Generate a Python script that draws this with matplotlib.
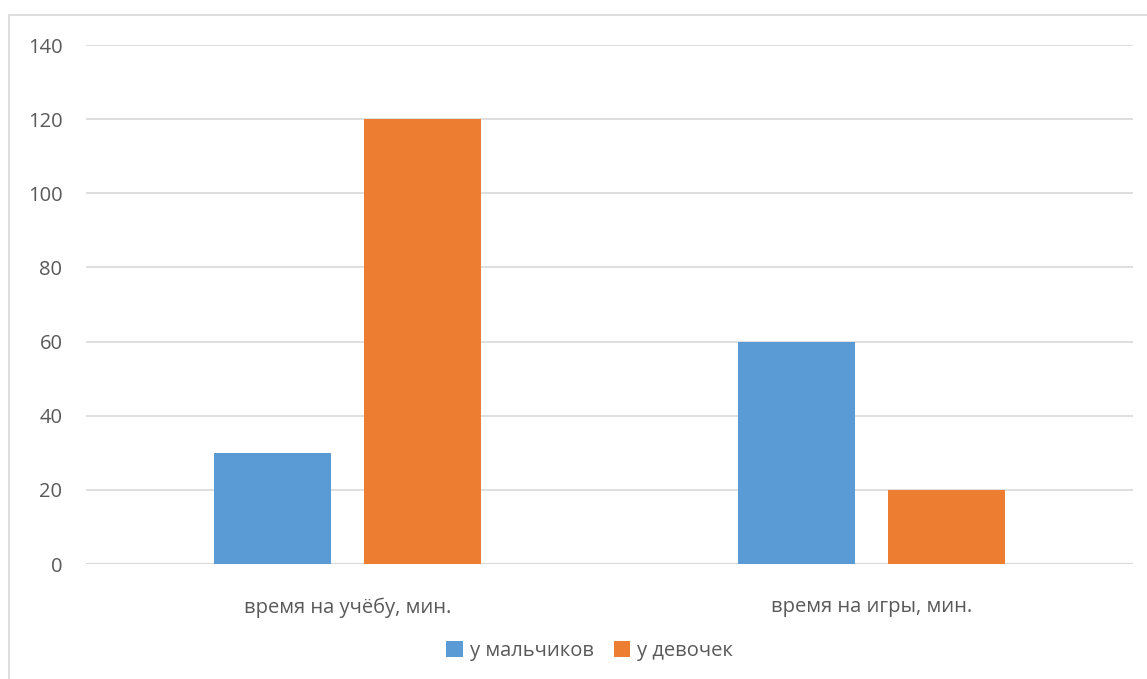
import matplotlib.pyplot as plt
import matplotlib.patches as mpatches
import numpy as np

categories = ["время на учёбу, мин.", "время на игры, мин."]
boys = [30, 60]
girls = [120, 20]
series_names = ["у мальчиков", "у девочек"]
yticks = [0, 20, 40, 60, 80, 100, 120, 140]

blue = "#5B9BD5"
orange = "#ED7D31"
grey = "#595959"

plt.rcParams['font.family'] = ['Open Sans', 'DejaVu Sans']

fig = plt.figure(figsize=(11.47, 6.79), dpi=100)
# outer chart frame (cut off on right/bottom like the screenshot)
fig.patches.append(mpatches.Rectangle((9/1147, -0.1), 1.2, 1 - 15/679 + 0.1,
                                      transform=fig.transFigure, fill=False,
                                      edgecolor="#D9D9D9", lw=1.2))

ax = fig.add_axes([86/1147, 1 - 564/679, (1133-86)/1147, (564-45)/679])
x = np.arange(len(categories))
w = 0.2235
off = 0.1437
ax.bar(x - off, boys, w, color=blue, label=series_names[0], zorder=3)
ax.bar(x + off, girls, w, color=orange, label=series_names[1], zorder=3)

ax.set_xlim(-0.5, 1.5)
ax.set_ylim(0, 140)
ax.set_yticks(yticks)
ax.yaxis.grid(True, color="#D9D9D9", lw=1.2, zorder=0)
for s in ax.spines.values():
    s.set_visible(False)
ax.axhline(0, color="#D9D9D9", lw=1.6, zorder=2)
ax.tick_params(axis='y', length=0, pad=17, labelsize=14.5, labelcolor=grey)
ax.tick_params(axis='x', length=0, pad=24, labelsize=14.5, labelcolor=grey)
ax.set_xticks(x)
ax.set_xticklabels(categories)

ax.legend(loc='center', bbox_to_anchor=(0.481, (1 - 651/679 - (1 - 564/679)) / ((564-45)/679)),
          ncol=2, frameon=False, fontsize=14.5, labelcolor=grey,
          handlelength=0.8, handleheight=0.8, handletextpad=0.35, columnspacing=1.0)

fig.savefig("out.png", dpi=100)
